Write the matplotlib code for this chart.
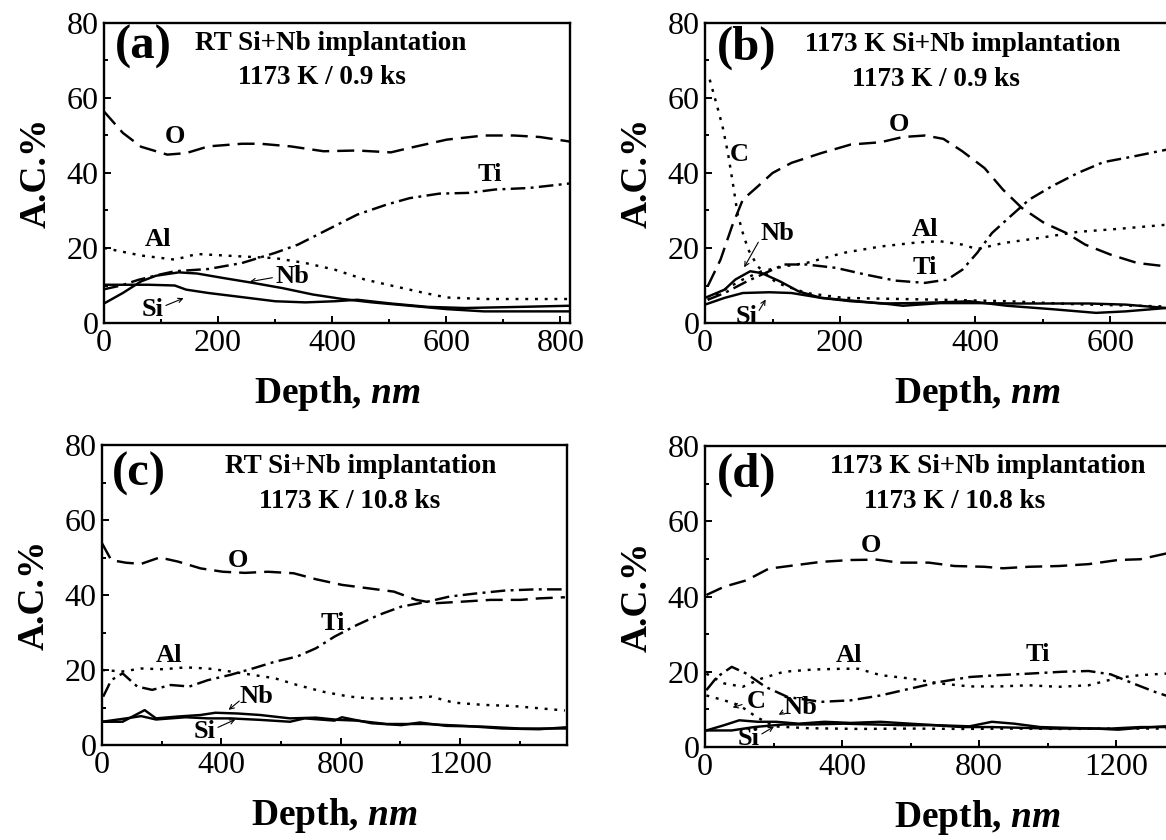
import matplotlib
matplotlib.use("Agg")
import matplotlib.pyplot as plt
from matplotlib.ticker import MultipleLocator, FixedLocator

plt.rcParams['font.family'] = ['Liberation Serif', 'DejaVu Serif']
plt.rcParams['mathtext.fontset'] = 'custom'
plt.rcParams['mathtext.it'] = 'Liberation Serif:italic:bold'
plt.rcParams['mathtext.rm'] = 'Liberation Serif:bold'

# ---------------- panel (a): RT implantation, 1173 K / 0.9 ks ----------------
a_O_x = [0, 33, 65, 111, 144, 183, 242, 274, 327, 385, 444, 503, 536, 601, 666, 719, 764, 816]
a_O_y = [56.4, 50.7, 47.0, 44.9, 45.3, 47.1, 47.8, 47.8, 47.1, 45.8, 46.0, 45.5, 46.7, 48.9, 50.0, 50.0, 49.6, 48.4]
a_Ti_x = [0, 30, 60, 100, 124, 183, 242, 300, 340, 392, 444, 496, 536, 588, 640, 686, 745, 816]
a_Ti_y = [9.0, 10.0, 11.5, 13.0, 13.8, 14.4, 16.0, 18.7, 20.9, 24.9, 28.9, 31.6, 33.3, 34.5, 34.7, 35.6, 36.0, 37.2]
a_Al_x = [0, 65, 124, 163, 235, 300, 353, 405, 457, 509, 562, 601, 666, 816]
a_Al_y = [20.0, 18.0, 16.9, 18.4, 17.8, 17.3, 16.0, 14.2, 11.6, 9.8, 8.0, 6.8, 6.4, 6.4]
a_Nb_x = [0, 33, 65, 91, 131, 163, 209, 261, 313, 366, 418, 470, 536, 601, 666, 731, 816]
a_Nb_y = [5.2, 8.0, 11.1, 12.6, 13.5, 13.2, 12.0, 10.7, 9.3, 7.6, 6.4, 5.5, 4.6, 3.7, 3.1, 3.1, 3.1]
a_Si_x = [0, 78, 124, 144, 183, 242, 300, 353, 405, 444, 503, 568, 633, 731, 816]
a_Si_y = [10.2, 10.2, 10.0, 8.9, 8.0, 6.9, 5.8, 5.5, 5.8, 6.2, 5.2, 4.3, 4.0, 4.3, 4.6]

# ---------------- panel (b): 1173 K implantation, 1173 K / 0.9 ks ----------------
b_O_x = [4, 23, 40, 56, 78, 100, 128, 172, 216, 260, 293, 326, 353, 381, 414, 441, 469, 502, 535, 563, 601, 640, 683, 760, 807]
b_O_y = [9.8, 16.9, 25.8, 32.9, 36.4, 40.0, 42.7, 45.3, 47.6, 48.2, 49.6, 50.0, 49.1, 45.8, 41.3, 35.6, 30.7, 26.7, 24.0, 20.9, 18.2, 16.0, 15.1, 14.5, 14.0]
b_C_x = [7, 18, 26, 34, 42, 48, 56, 64, 78, 106, 150, 205, 260, 350, 450, 550, 683, 807]
b_C_y = [64.9, 57.8, 52.4, 45.3, 36.4, 29.3, 24.0, 19.6, 15.1, 10.7, 8.0, 6.7, 6.5, 6.2, 5.8, 5.0, 4.4, 4.2]
b_Al_x = [4, 29, 56, 84, 117, 150, 205, 260, 315, 348, 381, 403, 441, 496, 552, 612, 683, 807]
b_Al_y = [6.2, 8.9, 11.6, 13.8, 15.1, 16.0, 18.7, 20.4, 21.5, 21.8, 20.9, 19.7, 21.3, 22.7, 24.3, 25.1, 26.2, 27.0]
b_Ti_x = [4, 29, 62, 84, 117, 150, 194, 238, 282, 326, 359, 381, 403, 425, 452, 480, 513, 552, 590, 634, 683, 807]
b_Ti_y = [6.2, 8.0, 11.1, 12.9, 15.6, 15.6, 14.7, 12.9, 11.3, 10.7, 11.6, 14.2, 18.7, 24.0, 28.4, 32.9, 36.4, 40.0, 42.9, 44.4, 46.2, 47.5]
b_Nb_x = [0, 29, 45, 67, 84, 111, 139, 172, 216, 260, 293, 348, 403, 458, 513, 568, 623, 683, 807]
b_Nb_y = [6.7, 8.9, 11.6, 13.8, 13.3, 11.1, 8.4, 6.7, 5.8, 5.3, 4.6, 5.3, 5.3, 5.2, 5.2, 5.2, 4.9, 4.0, 3.8]
b_Si_x = [0, 29, 56, 95, 128, 172, 216, 260, 304, 348, 392, 447, 513, 579, 623, 683, 807]
b_Si_y = [4.9, 6.7, 8.0, 8.2, 8.0, 6.7, 6.0, 5.2, 5.3, 5.5, 5.8, 4.6, 3.7, 2.7, 3.1, 4.0, 4.0]

# ---------------- panel (c): RT implantation, 1173 K / 10.8 ks ----------------
c_O_x = [0, 31, 81, 131, 193, 255, 330, 405, 480, 555, 642, 717, 804, 891, 978, 1053, 1115, 1202, 1302, 1402, 1464, 1551]
c_O_y = [53.8, 49.3, 48.6, 48.3, 50.0, 48.9, 47.1, 46.2, 45.9, 46.2, 45.8, 44.2, 42.7, 41.8, 40.9, 38.7, 37.8, 38.2, 38.7, 38.7, 39.1, 39.4]
c_Ti_x = [4, 31, 69, 118, 168, 230, 293, 355, 430, 505, 579, 654, 717, 779, 854, 928, 1003, 1090, 1165, 1252, 1352, 1452, 1551]
c_Ti_y = [12.9, 17.3, 19.1, 15.6, 14.7, 16.0, 15.6, 17.3, 18.7, 20.4, 22.2, 23.6, 25.8, 28.9, 32.0, 34.7, 36.9, 38.2, 39.6, 40.4, 41.2, 41.5, 41.5]
c_Al_x = [0, 69, 131, 206, 280, 355, 430, 505, 579, 654, 741, 829, 903, 1003, 1103, 1178, 1277, 1377, 1464, 1551]
c_Al_y = [20.0, 19.6, 20.4, 20.2, 20.7, 20.4, 19.6, 18.7, 17.8, 16.0, 14.2, 12.9, 12.4, 12.4, 12.9, 11.3, 10.7, 10.4, 9.8, 9.2]
c_Nb_x = [0, 69, 143, 181, 255, 330, 380, 455, 530, 630, 717, 791, 854, 953, 1078, 1215, 1340, 1464, 1551]
c_Nb_y = [6.2, 6.2, 9.3, 7.1, 7.6, 8.0, 8.6, 8.4, 8.0, 7.1, 7.3, 6.7, 6.5, 5.6, 5.6, 5.1, 4.4, 4.2, 4.7]
c_Si_x = [0, 81, 131, 181, 280, 355, 430, 530, 630, 679, 779, 804, 903, 1003, 1065, 1153, 1277, 1402, 1551]
c_Si_y = [6.2, 7.1, 7.7, 6.8, 7.4, 7.1, 7.1, 6.7, 6.2, 7.1, 6.5, 7.4, 5.8, 5.3, 6.0, 5.1, 4.9, 4.4, 4.4]

# ---------------- panel (d): 1173 K implantation, 1173 K / 10.8 ks ----------------
d_O_x = [4, 56, 121, 186, 262, 338, 425, 501, 566, 653, 728, 815, 869, 945, 1032, 1119, 1205, 1270, 1344, 1590]
d_O_y = [40.4, 42.6, 44.3, 47.4, 48.3, 49.2, 49.7, 49.8, 49.0, 49.0, 48.1, 47.9, 47.5, 47.9, 48.1, 48.6, 49.7, 49.9, 51.4, 52.0]
d_Ti_x = [4, 35, 78, 121, 176, 241, 338, 425, 512, 598, 685, 772, 858, 945, 1043, 1119, 1184, 1249, 1314, 1344, 1590]
d_Ti_y = [15.1, 18.6, 21.3, 19.5, 16.0, 13.3, 12.0, 12.4, 13.7, 15.5, 17.3, 18.6, 19.1, 19.5, 20.0, 20.2, 19.3, 16.9, 14.6, 13.7, 13.0]
d_Al_x = [4, 56, 110, 165, 230, 317, 403, 447, 512, 598, 685, 772, 858, 945, 1032, 1119, 1205, 1270, 1344, 1590]
d_Al_y = [19.5, 16.9, 16.0, 18.2, 20.0, 20.6, 20.8, 20.8, 19.1, 18.2, 16.9, 16.1, 16.1, 16.4, 16.0, 16.4, 18.4, 19.1, 19.5, 19.8]
d_C_x = [4, 56, 100, 150, 200, 300, 450, 600, 750, 900, 1050, 1200, 1344, 1590]
d_C_y = [13.7, 12.4, 11.1, 8.0, 5.5, 5.0, 4.8, 4.9, 4.8, 4.9, 4.8, 4.9, 4.9, 4.9]
d_Nb_x = [4, 56, 100, 154, 208, 273, 349, 425, 512, 598, 674, 772, 837, 902, 978, 1054, 1140, 1205, 1270, 1344, 1590]
d_Nb_y = [4.4, 5.8, 7.1, 6.7, 6.7, 6.2, 6.7, 6.4, 6.7, 6.2, 5.8, 5.5, 6.7, 6.2, 5.3, 5.1, 4.9, 4.6, 5.1, 5.5, 5.5]
d_Si_x = [4, 78, 143, 230, 317, 403, 490, 577, 664, 751, 837, 924, 1010, 1097, 1184, 1270, 1344, 1590]
d_Si_y = [4.4, 4.4, 5.3, 6.0, 6.0, 6.2, 6.0, 5.8, 5.8, 5.3, 5.3, 5.1, 4.9, 4.9, 4.9, 5.3, 5.3, 5.3]

panel_tags = ['(a)', '(b)', '(c)', '(d)']
panel_line1 = ['RT Si+Nb implantation', '1173 K Si+Nb implantation',
               'RT Si+Nb implantation', '1173 K Si+Nb implantation']
panel_line2 = ['1173 K / 0.9 ks', '1173 K / 0.9 ks', '1173 K / 10.8 ks', '1173 K / 10.8 ks']
ticks_short = [0, 200, 400, 600, 800]
ticks_long = [0, 400, 800, 1200]

DASH = (0, (7, 3.3))
DASHDOT = (0, (6, 2.2, 1.2, 2.2))
DOT = (0, (1.2, 2.8))
LW = 1.75

fig = plt.figure(figsize=(11.66, 8.40), dpi=100)
W, H = 1166.0, 840.0


def make_axes(left, top, right, bottom, xmax, majors, minor):
    ax = fig.add_axes([left / W, 1 - bottom / H, (right - left) / W, (bottom - top) / H])
    ax.set_xlim(0, xmax)
    ax.set_ylim(0, 80)
    # only ticks that fall inside the visible part of the figure
    vis = (W - left) / (right - left) * xmax
    ax.xaxis.set_major_locator(FixedLocator([t for t in majors if t <= min(xmax, vis - 40)]))
    ax.xaxis.set_minor_locator(MultipleLocator(minor))
    ax.yaxis.set_major_locator(MultipleLocator(20))
    ax.yaxis.set_minor_locator(MultipleLocator(10))
    ax.tick_params(which='both', direction='in', width=1.4, labelsize=23, pad=4)
    ax.tick_params(which='major', length=5)
    ax.tick_params(which='minor', length=3)
    for s in ax.spines.values():
        s.set_linewidth(1.7)
    ax.set_ylabel('A.C.%', fontsize=27, fontweight='bold', labelpad=9)
    ax.set_xlabel(r'Depth, $\mathit{nm}$', fontsize=27, fontweight='bold', labelpad=12)
    return ax


def label(ax, txt, x, y):
    ax.text(x, y, txt, fontsize=19, fontweight='bold', ha='center', va='center')


def arrow(ax, x0, y0, x1, y1):
    ax.annotate('', xy=(x1, y1), xytext=(x0, y0),
                arrowprops=dict(arrowstyle='->', lw=0.8, color='black', mutation_scale=8))


def header(ax, i, tag_xy, l1_xy, l2_xy):
    ax.text(tag_xy[0], tag_xy[1], panel_tags[i], fontsize=35, fontweight='bold', ha='center', va='center')
    ax.text(l1_xy[0], l1_xy[1], panel_line1[i], fontsize=19.5, fontweight='bold', ha='center', va='center')
    ax.text(l2_xy[0], l2_xy[1], panel_line2[i], fontsize=19.5, fontweight='bold', ha='center', va='center')


# (a)
ax = make_axes(104, 23, 570, 323, 817, ticks_short, 100)
ax.plot(a_O_x, a_O_y, color='k', lw=LW, ls=DASH)
ax.plot(a_Ti_x, a_Ti_y, color='k', lw=LW, ls=DASHDOT)
ax.plot(a_Al_x, a_Al_y, color='k', lw=LW, ls=DOT)
ax.plot(a_Nb_x, a_Nb_y, color='k', lw=LW)
ax.plot(a_Si_x, a_Si_y, color='k', lw=LW)
header(ax, 0, (69, 73.5), (398, 74.5), (382, 65.5))
label(ax, 'O', 124, 49.8)
label(ax, 'Ti', 676, 39.6)
label(ax, 'Al', 95, 22.2)
label(ax, 'Nb', 330, 12.4)
arrow(ax, 300, 12.2, 251, 10.9)
label(ax, 'Si', 85, 3.6)
arrow(ax, 104, 4.4, 144, 6.9)

# (b)
ax = make_axes(705, 23, 1250, 323, 807, ticks_short, 100)
ax.plot(b_O_x, b_O_y, color='k', lw=LW, ls=DASH)
ax.plot(b_C_x, b_C_y, color='k', lw=LW, ls=DOT)
ax.plot(b_Al_x, b_Al_y, color='k', lw=LW, ls=DOT)
ax.plot(b_Ti_x, b_Ti_y, color='k', lw=LW, ls=DASHDOT)
ax.plot(b_Nb_x, b_Nb_y, color='k', lw=LW)
ax.plot(b_Si_x, b_Si_y, color='k', lw=LW)
header(ax, 1, (62, 73.5), (381, 74.2), (342, 65.0))
label(ax, 'O', 287, 52.9)
label(ax, 'C', 51, 44.9)
label(ax, 'Nb', 108, 24.0)
arrow(ax, 81, 22.2, 56, 14.2)
label(ax, 'Al', 326, 24.9)
label(ax, 'Ti', 326, 14.7)
label(ax, 'Si', 62, 1.8)
arrow(ax, 78, 2.7, 92, 6.9)

# (c)
ax = make_axes(102, 445, 567, 745, 1558, ticks_long, 200)
ax.plot(c_O_x, c_O_y, color='k', lw=LW, ls=DASH)
ax.plot(c_Ti_x, c_Ti_y, color='k', lw=LW, ls=DASHDOT)
ax.plot(c_Al_x, c_Al_y, color='k', lw=LW, ls=DOT)
ax.plot(c_Nb_x, c_Nb_y, color='k', lw=LW)
ax.plot(c_Si_x, c_Si_y, color='k', lw=LW)
header(ax, 2, (125, 72.4), (866, 74.2), (829, 64.9))
label(ax, 'O', 455, 49.3)
label(ax, 'Ti', 773, 32.4)
label(ax, 'Al', 224, 24.0)
label(ax, 'Nb', 517, 12.9)
arrow(ax, 467, 12.2, 417, 8.9)
label(ax, 'Si', 343, 3.6)
arrow(ax, 380, 4.4, 455, 7.1)

# (d)
ax = make_axes(705, 446, 1250, 747, 1590, ticks_long, 200)
ax.plot(d_O_x, d_O_y, color='k', lw=LW, ls=DASH)
ax.plot(d_Ti_x, d_Ti_y, color='k', lw=LW, ls=DASHDOT)
ax.plot(d_Al_x, d_Al_y, color='k', lw=LW, ls=DOT)
ax.plot(d_C_x, d_C_y, color='k', lw=LW, ls=DOT)
ax.plot(d_Nb_x, d_Nb_y, color='k', lw=LW)
ax.plot(d_Si_x, d_Si_y, color='k', lw=LW)
header(ax, 3, (121, 72.3), (826, 74.5), (728, 65.2))
label(ax, 'O', 485, 53.6)
label(ax, 'Al', 420, 24.2)
label(ax, 'Ti', 972, 24.7)
label(ax, 'C', 149, 12.0)
arrow(ax, 116, 11.5, 73, 10.3)
label(ax, 'Nb', 279, 10.6)
arrow(ax, 235, 9.6, 208, 8.2)
label(ax, 'Si', 127, 2.2)
arrow(ax, 159, 3.1, 208, 5.8)

fig.savefig('out.png', dpi=100)
